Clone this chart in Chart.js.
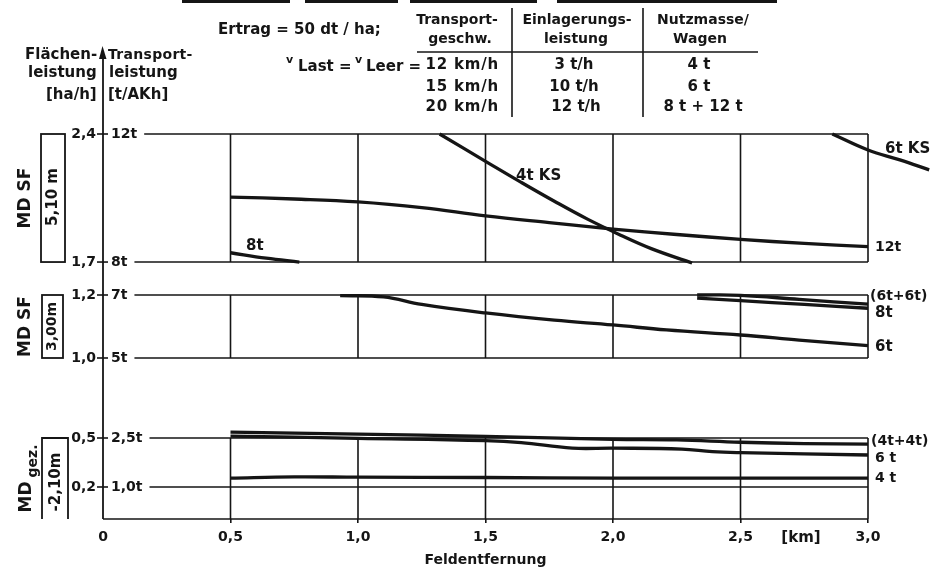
<!DOCTYPE html>
<html><head><meta charset="utf-8">
<script src="https://cdn.jsdelivr.net/npm/chart.js@4/dist/chart.umd.min.js"></script>
<style>html,body{margin:0;padding:0;background:#fff}#wrap{width:946px;height:569px;position:relative}</style>
</head><body><div id="wrap"><canvas id="c" width="946" height="569"></canvas></div>
<script>
// ---- ticks / categories ----
const xTickValues = [0, 0.5, 1.0, 1.5, 2.0, 2.5, 3.0];
const xTickLabels = ["0", "0,5", "1,0", "1,5", "2,0", "2,5", "3,0"];

const p1TickValues = [12, 8];
const p1TickLabels = ["12t", "8t"];
const p1AreaLabels = ["2,4", "1,7"];
const p2TickValues = [7, 5];
const p2TickLabels = ["7t", "5t"];
const p2AreaLabels = ["1,2", "1,0"];
const p3TickValues = [2.5, 1.0];
const p3TickLabels = ["2,5t", "1,0t"];
const p3AreaLabels = ["0,5", "0,2"];

// ---- series (x: Feldentfernung km, y: Transportleistung t/AKh) ----
const p1_12t_km  = [0.5, 0.75, 1.0, 1.25, 1.5, 1.75, 2.0, 2.25, 2.5, 2.75, 3.0];
const p1_12t_val = [10.03, 9.97, 9.88, 9.70, 9.44, 9.23, 9.03, 8.86, 8.71, 8.58, 8.48];
const p1_8t_km   = [0.5, 0.64, 0.77];
const p1_8t_val  = [8.29, 8.12, 8.0];
const p1_4tKS_km  = [1.32, 1.51, 1.64, 1.77, 1.90, 2.03, 2.15, 2.31];
const p1_4tKS_val = [12.0, 11.10, 10.49, 9.90, 9.34, 8.84, 8.42, 7.97];
const p1_6tKS_km  = [2.86, 3.0, 3.125, 3.24];
const p1_6tKS_val = [12.0, 11.5, 11.19, 10.88];

const p2_6t_km   = [0.93, 1.1, 1.25, 1.5, 1.77, 2.0, 2.21, 2.5, 2.73, 3.0];
const p2_6t_val  = [6.98, 6.94, 6.70, 6.43, 6.2, 6.05, 5.89, 5.73, 5.57, 5.39];
const p2_8t_km   = [2.33, 2.5, 2.75, 3.0];
const p2_8t_val  = [6.90, 6.82, 6.70, 6.58];
const p2_6t6t_km  = [2.33, 2.5, 2.73, 3.0];
const p2_6t6t_val = [7.0, 6.99, 6.86, 6.71];

const p3_4t4t_km  = [0.5, 1.0, 1.5, 2.0, 2.25, 2.5, 2.75, 3.0];
const p3_4t4t_val = [2.68, 2.62, 2.55, 2.46, 2.44, 2.37, 2.33, 2.31];
const p3_6t_km   = [0.5, 1.0, 1.5, 1.64, 1.84, 2.0, 2.27, 2.39, 2.5, 3.0];
const p3_6t_val  = [2.56, 2.49, 2.42, 2.36, 2.19, 2.19, 2.16, 2.08, 2.05, 1.98];
const p3_4t_km   = [0.5, 0.75, 1.0, 1.5, 2.0, 2.5, 3.0];
const p3_4t_val  = [1.27, 1.31, 1.30, 1.29, 1.27, 1.27, 1.27];

// ---- setup ----
const FAM = "'DejaVu Sans', 'Liberation Sans', sans-serif";
const INK = '#151515';
Chart.defaults.font.family = FAM;
Chart.defaults.font.weight = 'bold';
Chart.defaults.font.size = 14;
Chart.defaults.color = INK;

function pts(xs, ys) { return xs.map((x, i) => ({ x: x, y: ys[i] })); }
function series(label, xs, ys, axis) {
  return { label: label, data: pts(xs, ys), yAxisID: axis, borderColor: INK, borderWidth: 3.3,
    pointRadius: 0, fill: false, clip: false, tension: 0.4, borderCapStyle: 'butt' };
}
function yAxis(min, max, stackWeight, weight) {
  return { type: 'linear', position: 'left', stack: 'panels', stackWeight: stackWeight, weight: weight,
    min: min, max: max, ticks: { display: false }, grid: { display: false, drawTicks: false },
    border: { display: false }, afterFit: function (s) { s.width = 0; } };
}

const panels = [
  { id: 'y1', ticks: p1TickValues, tLabels: p1TickLabels, aLabels: p1AreaLabels },
  { id: 'y2', ticks: p2TickValues, tLabels: p2TickLabels, aLabels: p2AreaLabels },
  { id: 'y3', ticks: p3TickValues, tLabels: p3TickLabels, aLabels: p3AreaLabels }
];

function f(size, w) { return (w || 'bold') + ' ' + size + 'px ' + FAM; }
function line(ctx, x1, y1, x2, y2) { ctx.beginPath(); ctx.moveTo(x1, y1); ctx.lineTo(x2, y2); ctx.stroke(); }
function txt(ctx, s, x, y, size, align, spacing) {
  ctx.font = f(size); ctx.textAlign = align || 'left'; ctx.textBaseline = 'middle';
  ctx.letterSpacing = spacing || '0px';
  ctx.fillText(s, x, y);
  ctx.letterSpacing = '0px';
}
function vtxt(ctx, s, x, y, size) {
  ctx.save(); ctx.translate(x, y); ctx.rotate(-Math.PI / 2);
  ctx.font = f(size); ctx.textAlign = 'center'; ctx.textBaseline = 'middle'; ctx.fillText(s, 0, 0);
  ctx.restore();
}

const decor = {
  id: 'decor',
  beforeDatasetsDraw(chart) {
    const ctx = chart.ctx, xs = chart.scales.x;
    const ax = xs.getPixelForValue(0);
    const xr = xs.getPixelForValue(xTickValues[xTickValues.length - 1]);
    ctx.save();
    ctx.strokeStyle = INK; ctx.fillStyle = INK; ctx.lineWidth = 1.6;
    panels.forEach((p, i) => {
      const ys = chart.scales[p.id];
      const top = ys.getPixelForValue(p.ticks[0]);
      const bot = (i === panels.length - 1) ? xs.top : ys.getPixelForValue(p.ticks[1]);
      xTickValues.forEach(v => { if (v === 0) return; const px = xs.getPixelForValue(v); line(ctx, px, top, px, bot); });
      p.ticks.forEach((v, j) => {
        const py = ys.getPixelForValue(v);
        ctx.font = f(14);
        const w = ctx.measureText(p.tLabels[j]).width;
        line(ctx, ax + 9 + w + 6, py, xr, py);
        line(ctx, ax - 6, py, ax + 5, py);
        txt(ctx, p.tLabels[j], ax + 8, py, 14, 'left');
        txt(ctx, p.aLabels[j], ax - 7, py, 14, 'right');
      });
    });
    // x axis line
    line(ctx, ax, xs.top, xr, xs.top);
    // y axis with arrow
    ctx.lineWidth = 1.8;
    line(ctx, ax, 56, ax, xs.top);
    ctx.beginPath(); ctx.moveTo(ax - 0.5, 46); ctx.lineTo(ax - 4, 59); ctx.lineTo(ax + 3.5, 59); ctx.closePath(); ctx.fill();
    ctx.restore();
  },
  afterDraw(chart) {
    const ctx = chart.ctx;
    ctx.save();
    ctx.fillStyle = INK; ctx.strokeStyle = INK;
    // top bars (cropped rules)
    [[182, 108], [305, 93], [410, 127], [557, 220]].forEach(b => ctx.fillRect(b[0], 0, b[1], 3));
    // axis headers
    txt(ctx, 'Flächen-', 25, 55, 15); txt(ctx, 'leistung', 28, 73, 15); txt(ctx, '[ha/h]', 46, 95, 15);
    txt(ctx, 'Transport-', 108, 55, 14, 'left', '0.3px'); txt(ctx, 'leistung', 109, 73, 15); txt(ctx, '[t/AKh]', 108, 95, 15);
    // Ertrag / v
    txt(ctx, 'Ertrag = 50 dt / ha;', 218, 30, 15);
    txt(ctx, 'v', 286, 60, 11); txt(ctx, 'Last =', 298, 67, 15);
    txt(ctx, 'v', 355, 60, 11); txt(ctx, 'Leer =', 366, 67, 15);
    // table
    ctx.lineWidth = 1.6;
    line(ctx, 512, 8, 512, 117); line(ctx, 643, 8, 643, 117); line(ctx, 417, 52, 758, 52);
    txt(ctx, 'Transport-', 457, 20, 14, 'center'); txt(ctx, 'geschw.', 460, 39, 14, 'center');
    txt(ctx, 'Einlagerungs-', 577, 20, 14, 'center'); txt(ctx, 'leistung', 576, 39, 14, 'center');
    txt(ctx, 'Nutzmasse/', 703, 20, 14, 'center'); txt(ctx, 'Wagen', 700, 39, 14, 'center');
    txt(ctx, '12 km/h', 499, 65, 15, 'right', '0.8px'); txt(ctx, '15 km/h', 499, 87, 15, 'right', '0.8px'); txt(ctx, '20 km/h', 499, 107, 15, 'right', '0.8px');
    txt(ctx, '3 t/h', 574, 65, 15, 'center'); txt(ctx, '10 t/h', 574, 87, 15, 'center'); txt(ctx, '12 t/h', 576, 107, 15, 'center');
    txt(ctx, '4 t', 699, 65, 15, 'center'); txt(ctx, '6 t', 699, 87, 15, 'center'); txt(ctx, '8 t + 12 t', 703, 107, 15, 'center');
    // panel side labels
    const y1 = chart.scales.y1, y2 = chart.scales.y2, y3 = chart.scales.y3, xs = chart.scales.x;
    ctx.lineWidth = 1.8;
    let t = y1.getPixelForValue(p1TickValues[0]), b = y1.getPixelForValue(p1TickValues[1]);
    ctx.strokeRect(41, t, 24, b - t);
    vtxt(ctx, 'MD SF', 26, (t + b) / 2, 17); vtxt(ctx, '5,10 m', 53, (t + b) / 2 - 1, 15);
    t = y2.getPixelForValue(p2TickValues[0]); b = y2.getPixelForValue(p2TickValues[1]);
    ctx.strokeRect(42, t, 21, b - t);
    vtxt(ctx, 'MD SF', 26, (t + b) / 2, 17); vtxt(ctx, '3,00m', 52.5, (t + b) / 2, 14);
    t = y3.getPixelForValue(p3TickValues[0]); b = xs.top;
    ctx.beginPath(); ctx.moveTo(42, b); ctx.lineTo(42, t); ctx.lineTo(68, t); ctx.lineTo(68, b); ctx.stroke();
    vtxt(ctx, 'MD', 27, 497, 17); vtxt(ctx, 'gez.', 33, 461, 14); vtxt(ctx, '-2,10m', 56, 482, 15);
    // curve labels
    txt(ctx, '6t KS', 885, 149, 15); txt(ctx, '4t KS', 516, 176, 15); txt(ctx, '12t', 875, 247, 14);
    txt(ctx, '8t', 246, 246, 15);
    txt(ctx, '(6t+6t)', 870, 296, 14); txt(ctx, '8t', 875, 313, 15); txt(ctx, '6t', 875, 347, 15);
    txt(ctx, '(4t+4t)', 871, 441, 14); txt(ctx, '6 t', 875, 458, 14); txt(ctx, '4 t', 875, 478, 14);
    // unit on x axis
    txt(ctx, '[km]', 801, 538, 15, 'center');
    ctx.restore();
  }
};

new Chart(document.getElementById('c'), {
  type: 'line',
  data: {
    datasets: [
      series('12t', p1_12t_km, p1_12t_val, 'y1'),
      series('8t', p1_8t_km, p1_8t_val, 'y1'),
      series('4t KS', p1_4tKS_km, p1_4tKS_val, 'y1'),
      series('6t KS', p1_6tKS_km, p1_6tKS_val, 'y1'),
      series('6t', p2_6t_km, p2_6t_val, 'y2'),
      series('8t', p2_8t_km, p2_8t_val, 'y2'),
      series('(6t+6t)', p2_6t6t_km, p2_6t6t_val, 'y2'),
      series('(4t+4t)', p3_4t4t_km, p3_4t4t_val, 'y3'),
      series('6t', p3_6t_km, p3_6t_val, 'y3'),
      series('4t', p3_4t_km, p3_4t_val, 'y3')
    ]
  },
  options: {
    responsive: false, animation: false, devicePixelRatio: 1,
    layout: { padding: { top: 134, left: 103, right: 78, bottom: 0 } },
    plugins: { legend: { display: false }, tooltip: { enabled: false }, title: { display: false } },
    scales: {
      x: {
        type: 'linear', position: 'bottom',
        afterDataLimits: function (s) { s.min = xTickValues[0]; s.max = xTickValues[xTickValues.length - 1]; },
        afterBuildTicks: function (s) { s.ticks = xTickValues.map(v => ({ value: v })); },
        ticks: { padding: 6, maxRotation: 0, autoSkip: false, font: { size: 14, weight: 'bold' },
          callback: function (v) { const i = xTickValues.indexOf(v); return i >= 0 ? xTickLabels[i] : ''; } },
        grid: { display: true, drawOnChartArea: false, drawTicks: true, tickLength: 4, lineWidth: 1.6,
          color: function (c) { return c.tick && c.tick.value === 0 ? 'rgba(0,0,0,0)' : INK; } },
        border: { display: false },
        title: { display: true, text: 'Feldentfernung', padding: { top: 0, bottom: 0 }, font: { size: 14, weight: 'bold' } },
        afterFit: function (s) { s.height = 50; }
      },
      y1: yAxis(6.97, 12, 161, 3),
      y2: yAxis(2.46, 7, 143, 2),
      y3: yAxis(0.02, 2.5, 81, 1)
    }
  },
  plugins: [decor]
});
</script></body></html>
